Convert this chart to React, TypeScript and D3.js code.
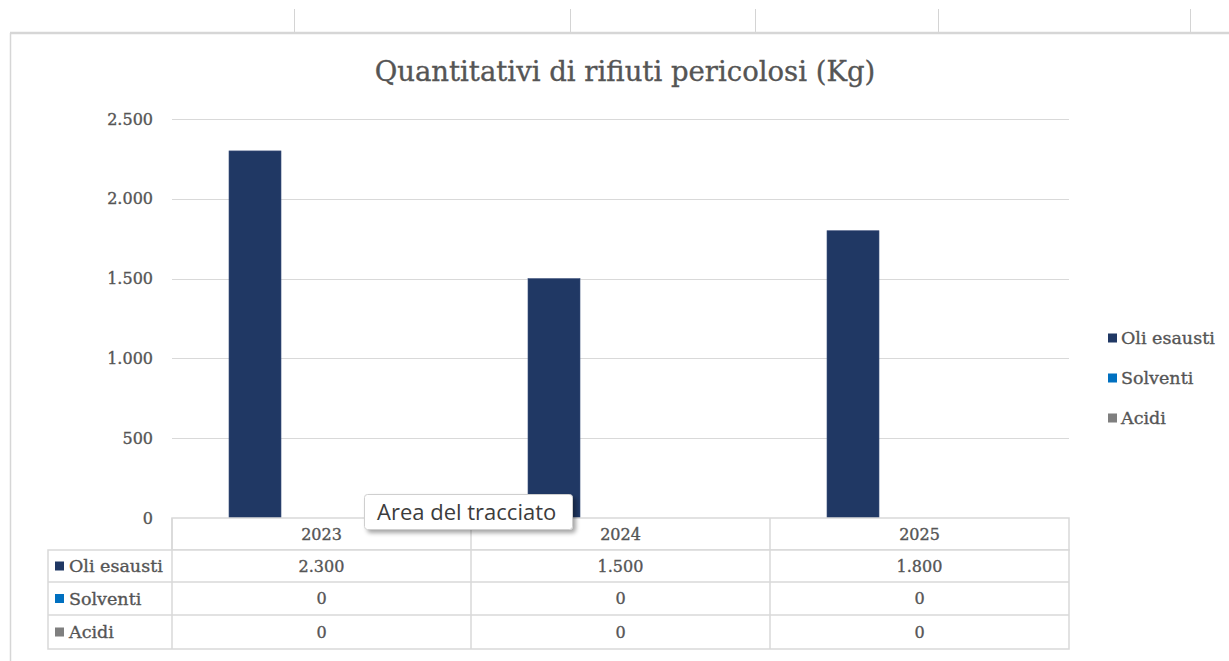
import React from 'react';
import * as d3 from 'd3';

// chart data
const years = ['2023', '2024', '2025'];
const seriesNames = ['Oli esausti', 'Solventi', 'Acidi'];
const oliEsausti = [2300, 1500, 1800];
const solventi = [0, 0, 0];
const acidi = [0, 0, 0];
const yTicks = [0, 500, 1000, 1500, 2000, 2500];
const seriesColors = ['#203864', '#0070c0', '#7f7f7f'];

const seriesValues = [oliEsausti, solventi, acidi];

// spreadsheet column separators peeking above the chart
const sheetCols = [294, 570, 755, 938, 1190];

const W = 1229;
const H = 661;
const plot = { left: 172, right: 1069, top: 119, bottom: 518 };
const rowH = [32, 33, 34];
const TXT = '#555555';
const GRID = '#d9d9d9';
const SERIF = '"DejaVu Serif", serif';

const fmt = d3.formatLocale({ decimal: ',', thousands: '.', grouping: [3], currency: ['€', ''] }).format(',d');

const App = () => {
  const x = d3.scaleBand<string>().domain(years).range([plot.left, plot.right]).padding(0);
  const inner = d3.scaleBand<string>().domain(seriesNames).range([57, x.bandwidth() - 57]).paddingInner(0.218);
  const y = d3.scaleLinear().domain([0, 2500]).range([plot.bottom, plot.top]);

  const headerTop = plot.bottom;
  const headerBottom = headerTop + 32;
  const rowTops = seriesNames.map((_, i) => headerBottom + d3.sum(rowH.slice(0, i)));
  const tableBottom = headerBottom + d3.sum(rowH);
  const tableLeft = 48;

  // slightly heavier glyphs, like the original render
  const heavy = { stroke: TXT, strokeWidth: 0.35 };

  return (
    <svg width={W} height={H} style={{ position: 'absolute', left: 0, top: 0, background: '#fff' }}>
      <defs>
        <filter id="tipShadow" x="-10%" y="-30%" width="130%" height="190%">
          <feDropShadow dx="3" dy="3" stdDeviation="2" floodColor="#000" floodOpacity="0.35" />
        </filter>
      </defs>

      {/* sheet background */}
      {sheetCols.map((cx) => (
        <line key={cx} x1={cx + 0.5} x2={cx + 0.5} y1={9} y2={33} stroke="#d4d4d4" />
      ))}
      <line x1={10} x2={W} y1={33} y2={33} stroke="#d6d6d6" strokeWidth={2.5} />
      <line x1={10.5} x2={10.5} y1={33} y2={H} stroke="#d6d6d6" strokeWidth={1.5} />

      {/* title */}
      <text x={625} y={81} textAnchor="middle" fontFamily={SERIF} fontSize={27.5} fill={TXT} {...heavy}>
        Quantitativi di rifiuti pericolosi (Kg)
      </text>

      {/* gridlines and y labels */}
      {yTicks.map((t) => (
        <g key={t}>
          {t > 0 && (
            <line x1={plot.left} x2={plot.right} y1={Math.round(y(t)) + 0.5} y2={Math.round(y(t)) + 0.5} stroke={GRID} />
          )}
          <text x={153} y={y(t)} dy="0.35em" textAnchor="end" fontFamily={SERIF} fontSize={16} fill={TXT} {...heavy}>
            {fmt(t)}
          </text>
        </g>
      ))}

      {/* bars */}
      {years.map((yr, i) => (
        <g key={yr} transform={`translate(${x(yr)},0)`}>
          {seriesNames.map((s, j) => {
            const v = seriesValues[j][i];
            if (!v) return null;
            return (
              <rect
                key={s}
                x={inner(s)}
                y={y(v)}
                width={inner.bandwidth()}
                height={y(0) - y(v)}
                fill={seriesColors[j]}
                stroke="#3b4f7a"
                strokeWidth={0.6}
              />
            );
          })}
        </g>
      ))}

      {/* data table */}
      <g fontFamily={SERIF} fill={TXT}>
        <rect x={plot.left} y={headerTop} width={plot.right - plot.left} height={headerBottom - headerTop} fill="#fff" stroke={GRID} strokeWidth={1.5} />
        <rect x={tableLeft} y={headerBottom} width={plot.right - tableLeft} height={tableBottom - headerBottom} fill="#fff" stroke={GRID} strokeWidth={1.5} />
        {rowTops.map((rt, i) => i > 0 && (
          <line key={i} x1={tableLeft} x2={plot.right} y1={rt} y2={rt} stroke={GRID} strokeWidth={1.5} />
        ))}
        {years.map((yr) => (
          <line key={yr} x1={x(yr)} x2={x(yr)} y1={headerTop} y2={tableBottom} stroke={GRID} strokeWidth={1.5} />
        ))}
        {years.map((yr) => (
          <text key={yr} x={(x(yr) as number) + x.bandwidth() / 2} y={(headerTop + headerBottom) / 2} dy="0.35em" textAnchor="middle" fontSize={16} {...heavy}>
            {yr}
          </text>
        ))}
        {seriesNames.map((s, j) => {
          const cy = rowTops[j] + rowH[j] / 2;
          return (
            <g key={s}>
              <rect x={55} y={cy - 4.5} width={9} height={9} fill={seriesColors[j]} />
              <text x={69} y={cy} dy="0.35em" fontSize={17.5} {...heavy}>{s}</text>
              {years.map((yr, i) => (
                <text key={yr} x={(x(yr) as number) + x.bandwidth() / 2} y={cy} dy="0.35em" textAnchor="middle" fontSize={16} {...heavy}>
                  {fmt(seriesValues[j][i])}
                </text>
              ))}
            </g>
          );
        })}
      </g>

      {/* legend */}
      <g fontFamily={SERIF} fill={TXT}>
        {seriesNames.map((s, j) => (
          <g key={s} transform={`translate(1108,${338 + j * 40})`}>
            <rect x={0} y={-4.5} width={9} height={9} fill={seriesColors[j]} />
            <text x={13} y={0} dy="0.35em" fontSize={17.5} {...heavy}>{s}</text>
          </g>
        ))}
      </g>

      {/* hover tooltip */}
      <g>
        <rect x={364.5} y={494.5} width={208} height={35} rx={3} fill="#fff" stroke="#cfcfcf" filter="url(#tipShadow)" />
        <text x={377} y={520} fontFamily='"Open Sans", sans-serif' fontSize={22} fill="#3c3c3c">
          Area del tracciato
        </text>
      </g>
    </svg>
  );
};

export default App;
